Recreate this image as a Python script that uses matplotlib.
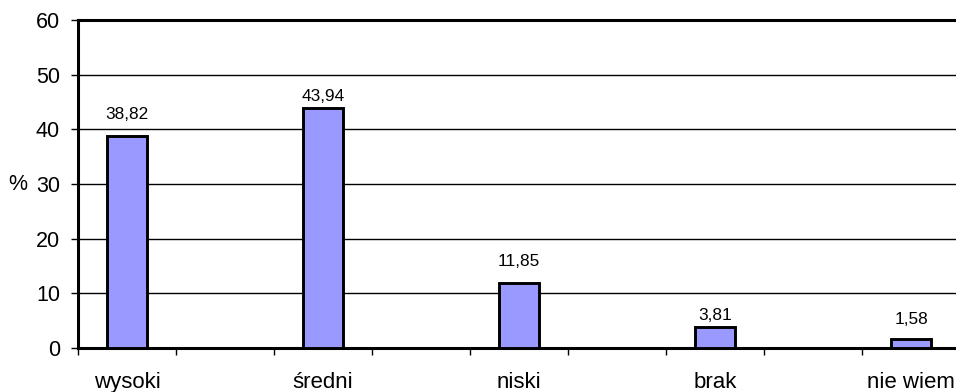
import matplotlib.pyplot as plt
import numpy as np

plt.rcParams['font.family'] = ['Liberation Sans', 'DejaVu Sans']

# kategorie (co druga pozycja pusta, jak w oryginalnym wykresie)
categories = ['wysoki', '', 'średni', '', 'niski', '', 'brak', '', 'nie wiem']
values = [38.82, None, 43.94, None, 11.85, None, 3.81, None, 1.58]
value_labels = ['38,82', '', '43,94', '', '11,85', '', '3,81', '', '1,58']
yticks = [0, 10, 20, 30, 40, 50, 60]

fig = plt.figure(figsize=(9.56, 3.92), dpi=100)
# prawa krawędź wykresu wychodzi poza obraz
ax = fig.add_axes([78/956, 44/392, 882/956, 328/392])

x = np.arange(len(categories))
heights = [v if v is not None else 0 for v in values]
mask = [v is not None for v in values]
bars = ax.bar(x[mask], np.array(heights)[mask], width=0.4,
              color='#9999FF', edgecolor='black', linewidth=2.1, zorder=3)

# odstępy etykiet nad słupkami (px)
pads = [14, 4, 14, 4, 12]
for b, lab, p in zip(bars, [l for l in value_labels if l], pads):
    ax.annotate(lab, (b.get_x() + b.get_width()/2, b.get_height()),
                xytext=(0, p), textcoords='offset pixels',
                ha='center', va='bottom', fontsize=12.4)

ax.set_xlim(-0.5, len(categories) - 0.5)
ax.set_ylim(0, 60)
ax.set_yticks(yticks)
ax.yaxis.grid(True, color='black', linewidth=1.0, zorder=0)
ax.set_axisbelow(True)

ax.set_xticks(x)
ax.set_xticklabels(categories, fontsize=16)
ax.set_xticks(np.arange(len(categories) + 1) - 0.5, minor=True)
ax.tick_params(axis='x', which='major', length=0, pad=17)
ax.tick_params(axis='x', which='minor', length=5, width=1, direction='out')
ax.tick_params(axis='y', labelsize=15.5, length=5, width=1, direction='out', pad=8)

# "%" obok etykiety 30
ax.annotate('%', xy=(0, 30), xycoords=('axes fraction', 'data'),
            xytext=(-70, 0), textcoords='offset pixels',
            ha='left', va='center', fontsize=15.5)

for side in ['left', 'bottom', 'top']:
    ax.spines[side].set_linewidth(2.2)
ax.spines['right'].set_visible(False)

fig.savefig('out.png', dpi=100)
